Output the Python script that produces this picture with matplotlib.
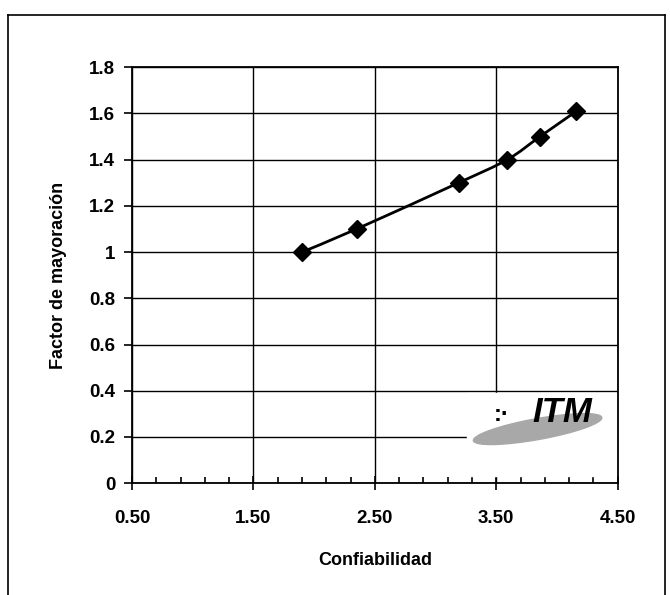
import matplotlib.pyplot as plt
import numpy as np
from matplotlib.path import Path
from matplotlib.patches import PathPatch, Ellipse, Rectangle
from matplotlib.lines import Line2D
from matplotlib.ticker import FixedLocator, FormatStrFormatter

plt.rcParams['font.family'] = ['Liberation Sans', 'DejaVu Sans']

# Datos
confiabilidad = [1.90, 2.35, 3.19, 3.59, 3.86, 4.16]
factor = [1.00, 1.10, 1.30, 1.40, 1.50, 1.61]
x_ticks = [0.50, 1.50, 2.50, 3.50, 4.50]
y_ticks = [0, 0.2, 0.4, 0.6, 0.8, 1.0, 1.2, 1.4, 1.6, 1.8]
y_labels = ['0', '0.2', '0.4', '0.6', '0.8', '1', '1.2', '1.4', '1.6', '1.8']

fig = plt.figure(figsize=(6.7, 5.95), dpi=100)
ax = fig.add_axes([0.197, 0.188, 0.725, 0.699])

# linea suavizada (estilo Excel) a partir de los puntos
x = np.array(confiabilidad)
y = np.array(factor)
verts = [(x[0], y[0])]
codes = [Path.MOVETO]
t = 1.0 / 6.0
for i in range(len(x) - 1):
    x0, y0 = (x[i - 1], y[i - 1]) if i > 0 else (x[i], y[i])
    x3, y3 = (x[i + 2], y[i + 2]) if i + 2 < len(x) else (x[i + 1], y[i + 1])
    c1 = (x[i] + (x[i + 1] - x0) * t, y[i] + (y[i + 1] - y0) * t)
    c2 = (x[i + 1] - (x3 - x[i]) * t, y[i + 1] - (y3 - y[i]) * t)
    verts += [c1, c2, (x[i + 1], y[i + 1])]
    codes += [Path.CURVE4] * 3
ax.add_patch(PathPatch(Path(verts, codes), fill=False, color='black', lw=2, zorder=3))
ax.plot(confiabilidad, factor, linestyle='none', marker='D', color='black', markersize=9, zorder=4)

ax.set_xlim(0.5, 4.5)
ax.set_ylim(0, 1.8)
ax.set_xticks(x_ticks)
ax.xaxis.set_minor_locator(FixedLocator(np.arange(0.7, 4.5, 0.2)))
ax.xaxis.set_major_formatter(FormatStrFormatter('%.2f'))
ax.set_yticks(y_ticks)
ax.set_yticklabels(y_labels)

ax.grid(True, which='major', color='black', lw=1)
ax.tick_params(axis='x', which='major', direction='inout', length=10, width=1.2, labelsize=13.5, pad=14)
ax.tick_params(axis='x', which='minor', direction='in', length=4, width=1.2)
ax.tick_params(axis='y', which='major', direction='out', length=6, width=1.2, labelsize=13.5, pad=6)
for lbl in ax.get_xticklabels() + ax.get_yticklabels():
    lbl.set_fontweight('bold')
for s in ax.spines.values():
    s.set_linewidth(1.3)
    s.set_zorder(7)

ax.set_xlabel('Confiabilidad', fontsize=13, fontweight='bold', labelpad=18)
ax.set_ylabel('Factor de mayoración', fontsize=13, fontweight='bold', labelpad=16)

# logo ITM aproximado
ax.add_patch(Rectangle((0.69, 0.016), 0.31, 0.2, transform=ax.transAxes,
                       color='white', zorder=4.5))
ax.add_patch(Ellipse((0.835, 0.13), 0.27, 0.05, angle=12, transform=ax.transAxes,
                     color='#a8a8a8', zorder=5))
ax.text(0.885, 0.17, 'ITM', transform=ax.transAxes, fontsize=25, fontweight='bold',
        style='italic', ha='center', va='center', color='black', zorder=6)
ax.text(0.76, 0.165, ':·', transform=ax.transAxes, fontsize=17, fontweight='bold',
        ha='center', va='center', color='black', zorder=6)

# marco exterior
fig.add_artist(Line2D([0.012, 0.992], [0.975, 0.975], color='black', lw=1.2))
fig.add_artist(Line2D([0.012, 0.012], [0.0, 0.975], color='black', lw=1.2))
fig.add_artist(Line2D([0.992, 0.992], [0.0, 0.975], color='black', lw=1.2))

fig.savefig('out.png', dpi=100)
